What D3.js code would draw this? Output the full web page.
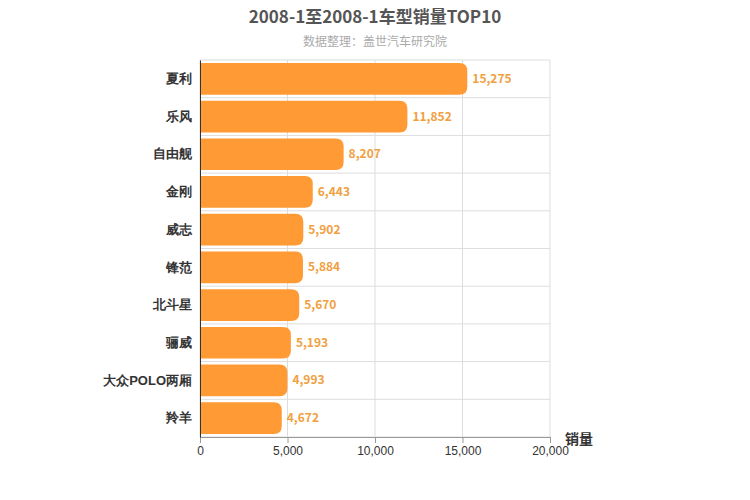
<!DOCTYPE html>
<html><head><meta charset="utf-8">
<script src="https://cdn.jsdelivr.net/npm/d3@7"></script>
<style>body{margin:0;background:#fff;font-family:"Noto Sans CJK SC","Noto Sans",sans-serif;}</style>
</head><body><div id="chart"></div>
<script>
const categories = ["夏利", "乐风", "自由舰", "金刚", "威志", "锋范", "北斗星", "骊威", "大众POLO两厢", "羚羊"];
const sales = [15275, 11852, 8207, 6443, 5902, 5884, 5670, 5193, 4993, 4672];
const xTicks = [0, 5000, 10000, 15000, 20000];

const margin = { top: 60, left: 200, right: 200, bottom: 63 };
const W = 750, H = 500;
const width = W - margin.left - margin.right;
const height = H - margin.top - margin.bottom;

const svg = d3.select("#chart").append("svg").attr("width", W).attr("height", H);

svg.append("text").attr("x", 375).attr("y", 23).attr("text-anchor", "middle")
    .style("font-size", "17px").style("font-weight", "bold").style("fill", "#555")
    .text("2008-1至2008-1车型销量TOP10");
svg.append("text").attr("x", 375).attr("y", 46).attr("text-anchor", "middle")
    .style("font-size", "12px").style("fill", "#aaa")
    .text("数据整理：盖世汽车研究院");

const g = svg.append("g").attr("transform", `translate(${margin.left},${margin.top})`);

const x = d3.scaleLinear().domain([0, 20000]).range([0, width]);
const y = d3.scaleBand().domain(categories).range([0, height]).paddingInner(0.16).paddingOuter(0.08);
const step = y.step();

// grid
g.selectAll(".vgrid").data(xTicks).enter().append("line")
    .attr("x1", d => x(d)).attr("x2", d => x(d)).attr("y1", 0).attr("y2", height)
    .attr("stroke", "#ddd");
g.selectAll(".hgrid").data(d3.range(categories.length + 1)).enter().append("line")
    .attr("x1", 0).attr("x2", width)
    .attr("y1", i => i * step).attr("y2", i => i * step)
    .attr("stroke", "#ddd");

// bars with rounded right end
const r = 8;
g.selectAll(".bar").data(categories).enter().append("path")
    .attr("fill", "#ff9a35")
    .attr("d", (c, i) => {
        const y0 = y(c), h = y.bandwidth(), w = x(sales[i]);
        return `M0,${y0}H${w - r}Q${w},${y0} ${w},${y0 + r}V${y0 + h - r}Q${w},${y0 + h} ${w - r},${y0 + h}H0Z`;
    });

g.selectAll(".val").data(categories).enter().append("text")
    .attr("x", (c, i) => x(sales[i]) + 5)
    .attr("y", c => y(c) + y.bandwidth() / 2 + 4)
    .style("font-size", "12px").style("font-weight", "bold").style("fill", "#f0a040")
    .text((c, i) => d3.format(",")(sales[i]));

// axes
const xa = g.append("g").attr("transform", `translate(0,${height})`)
    .call(d3.axisBottom(x).tickValues(xTicks).tickFormat(d3.format(",")).tickSizeOuter(0));
xa.select(".domain").attr("stroke", "#999");
xa.selectAll("line").attr("stroke", "#999");
xa.selectAll("text").style("font-size", "12px").style("fill", "#333");

const ya = g.append("g").call(d3.axisLeft(y).tickSize(0).tickPadding(8));
ya.select(".domain").attr("stroke", "#333");
ya.selectAll("text").style("font-size", "13px").style("font-weight", "bold").style("fill", "#333");

g.append("text").attr("x", width + 15).attr("y", height + 7)
    .style("font-size", "14px").style("font-weight", "bold").style("fill", "#333")
    .text("销量");
</script></body></html>
